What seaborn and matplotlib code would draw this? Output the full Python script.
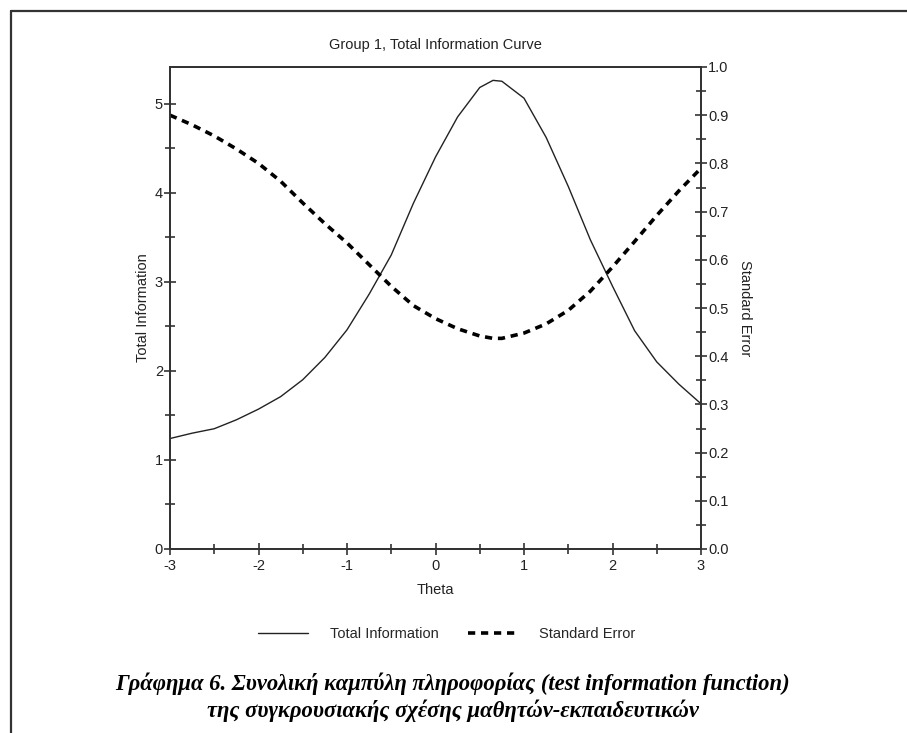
import matplotlib
matplotlib.use("Agg")
import matplotlib.pyplot as plt
from matplotlib.lines import Line2D
from matplotlib.ticker import MultipleLocator, FormatStrFormatter
import seaborn as sns
import pandas as pd

theta = [-3, -2.75, -2.5, -2.25, -2, -1.75, -1.5, -1.25, -1, -0.75, -0.5, -0.25,
         0, 0.25, 0.5, 0.65, 0.75, 1, 1.25, 1.5, 1.75, 2, 2.25, 2.5, 2.75, 3]
total_info = [1.24, 1.30, 1.35, 1.45, 1.57, 1.71, 1.90, 2.15, 2.46, 2.86, 3.30, 3.88,
              4.40, 4.85, 5.18, 5.26, 5.25, 5.06, 4.62, 4.07, 3.47, 2.95, 2.45, 2.10, 1.85, 1.63]
std_error = [0.900, 0.880, 0.857, 0.830, 0.800, 0.763, 0.718, 0.675, 0.635, 0.590, 0.545, 0.505,
             0.478, 0.457, 0.442, 0.437, 0.437, 0.448, 0.467, 0.495, 0.535, 0.585, 0.638, 0.692, 0.743, 0.790]

title = "Group 1, Total Information Curve"
xlabel = "Theta"
ylabel_left = "Total Information"
ylabel_right = "Standard Error"
caption = ("Γράφημα 6. Συνολική καμπύλη πληροφορίας (test information function)\n"
           "της συγκρουσιακής σχέσης μαθητών-εκπαιδευτικών")

df = pd.DataFrame({"theta": theta, "info": total_info, "se": std_error})

sns.set_theme(style="white")
plt.rcParams['font.family'] = ['Liberation Sans', 'DejaVu Sans']
plt.rcParams['axes.unicode_minus'] = False

DASH = (0, (2.0, 1.6))

fig = plt.figure(figsize=(9.07, 7.33), dpi=100)
ax = fig.add_axes([170/907, 1-549/733, (701-170)/907, (549-67)/733])
ax2 = ax.twinx()

sns.lineplot(data=df, x="theta", y="info", ax=ax, color="#222222", linewidth=1.0)
sns.lineplot(data=df, x="theta", y="se", ax=ax2, color="black", linewidth=2.6,
             linestyle=DASH)

ax.set_xlim(-3, 3)
ax.set_ylim(0, 5.41)
ax2.set_ylim(0, 1.0)

ax.xaxis.set_major_locator(MultipleLocator(1))
ax.xaxis.set_minor_locator(MultipleLocator(0.5))
ax.yaxis.set_major_locator(MultipleLocator(1))
ax.yaxis.set_minor_locator(MultipleLocator(0.5))
ax2.yaxis.set_major_locator(MultipleLocator(0.1))
ax2.yaxis.set_minor_locator(MultipleLocator(0.05))
ax2.yaxis.set_major_formatter(FormatStrFormatter("%.1f"))

for a in (ax, ax2):
    for sp in a.spines.values():
        sp.set_color("#333333")
        sp.set_linewidth(1.3)
    a.tick_params(which="both", direction="inout", color="#333333", width=1.2,
                  labelsize=10.5, labelcolor="#222222", pad=1)
    a.tick_params(which="major", length=8)
    a.tick_params(which="minor", length=7)
ax.tick_params(axis="x", which="both", bottom=True, top=False, pad=3)
ax.tick_params(axis="y", which="both", left=True, right=False)
ax2.tick_params(axis="y", which="both", right=True, left=False)

ax.set_title(title, fontsize=10.5, color="#222222", pad=13)
ax.set_xlabel(xlabel, fontsize=10.5, color="#222222")
ax.xaxis.set_label_coords(0.5, -(590-549)/482, transform=ax.transAxes)
ax.xaxis.label.set_va("center")
ax.set_ylabel(ylabel_left, fontsize=10.5, color="#222222")
ax.yaxis.set_label_coords(-(170-143)/531, 0.5)
ax.yaxis.label.set_va("center")
ax2.set_ylabel(ylabel_right, fontsize=10.5, color="#222222", rotation=270)
ax2.yaxis.set_label_coords((745-170)/531, 0.5)
ax2.yaxis.label.set_va("center")

handles = [Line2D([], [], color="#222222", linewidth=1.0),
           Line2D([], [], color="black", linewidth=2.6, linestyle=DASH)]
fig.legend(handles, [ylabel_left, ylabel_right], loc="center", ncol=2,
           bbox_to_anchor=(447/907, 1-634/733), frameon=False, fontsize=10.5,
           handlelength=3.4, columnspacing=2.0, handletextpad=1.5)

fig.text(453/907, 1-697.5/733, caption, ha="center", va="center", fontsize=16.3,
         family=['Liberation Serif', 'DejaVu Serif'], style="italic", weight="bold",
         color="black", linespacing=1.25)

# outer frame
fig.add_artist(Line2D([11/907, 11/907], [0, 1-11/733], transform=fig.transFigure,
                      color="#333333", linewidth=1.6))
fig.add_artist(Line2D([11/907, 1], [1-11/733, 1-11/733], transform=fig.transFigure,
                      color="#333333", linewidth=1.6))

fig.savefig("out.png", dpi=100, facecolor="white")
